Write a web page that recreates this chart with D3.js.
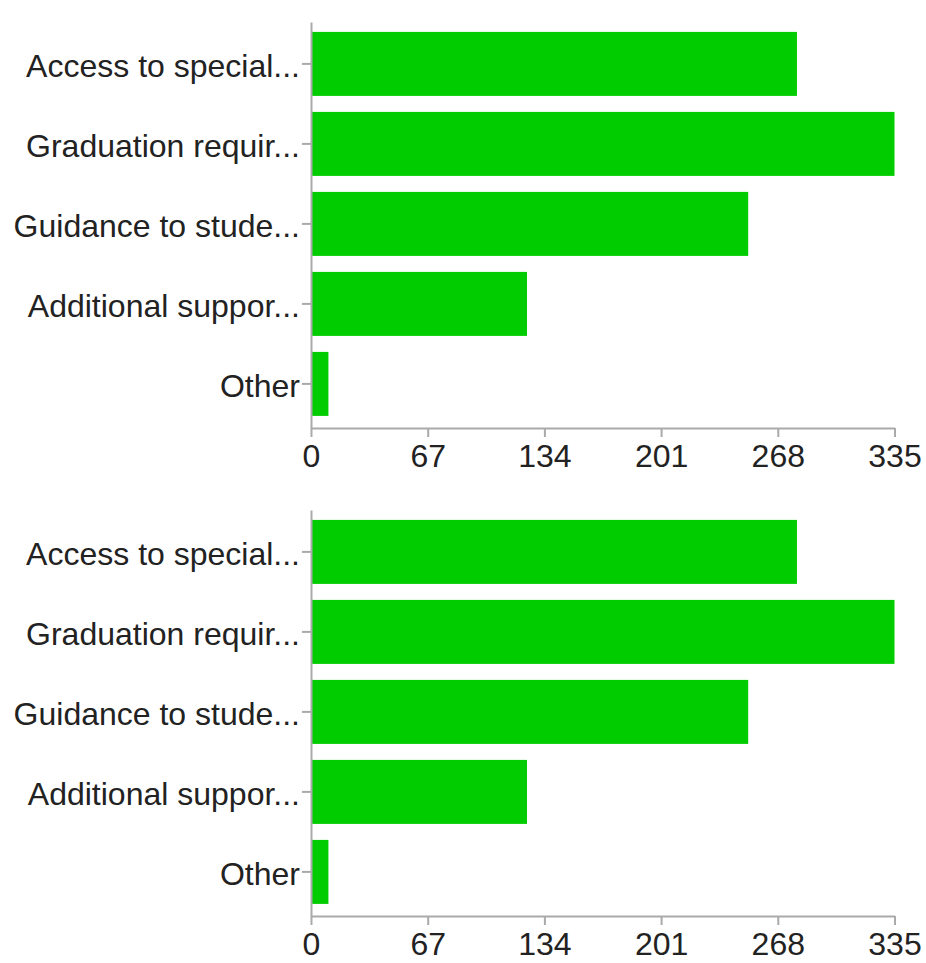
<!DOCTYPE html>
<html>
<head>
<meta charset="utf-8">
<script src="https://cdn.jsdelivr.net/npm/d3@7"></script>
<style>
  html, body { margin: 0; padding: 0; background: #fff; }
  svg { display: block; }
  .axis text { font-family: "Liberation Sans", Arial, Helvetica, sans-serif; font-size: 32px; fill: #222; }
  .axis path, .axis line { stroke: #aaa; stroke-width: 2px; }
</style>
</head>
<body>
<svg id="chart" width="926" height="963"></svg>
<script>
const categories = ["Access to special...", "Graduation requir...", "Guidance to stude...", "Additional suppor...", "Other"];
const panel1Values = [279, 335, 251, 124, 10];
const panel2Values = [279, 335, 251, 124, 10];
const tickValues = [0, 67, 134, 201, 268, 335];

const panels = [
  { values: panel1Values, top: 22 },
  { values: panel2Values, top: 510 }
];

const svg = d3.select("#chart");
const left = 311, right = 894.5, plotH = 406;

const x = d3.scaleLinear().domain([0, 335]).range([left, right]);

panels.forEach(p => {
  const g = svg.append("g").attr("transform", `translate(0,${p.top})`);
  const y = d3.scaleBand().domain(categories).range([0, plotH])
    .paddingInner(0.2).paddingOuter(0.1375).align(0.45);

  g.selectAll("rect.bar").data(p.values).join("rect")
    .attr("class", "bar")
    .attr("x", x(0))
    .attr("y", (d, i) => y(categories[i]))
    .attr("width", d => x(d) - x(0))
    .attr("height", y.bandwidth())
    .attr("fill", "#00cc00");

  g.append("g").attr("class", "axis")
    .attr("transform", `translate(${left},0)`)
    .call(d3.axisLeft(y).tickSize(9).tickSizeOuter(0).tickPadding(2))
    .call(a => a.selectAll("text").attr("dy", "0.42em"));

  g.append("g").attr("class", "axis")
    .attr("transform", `translate(0,${plotH})`)
    .call(d3.axisBottom(x).tickValues(tickValues).tickFormat(d3.format("d")).tickSize(9).tickSizeOuter(0).tickPadding(7));
});
</script>
</body>
</html>
